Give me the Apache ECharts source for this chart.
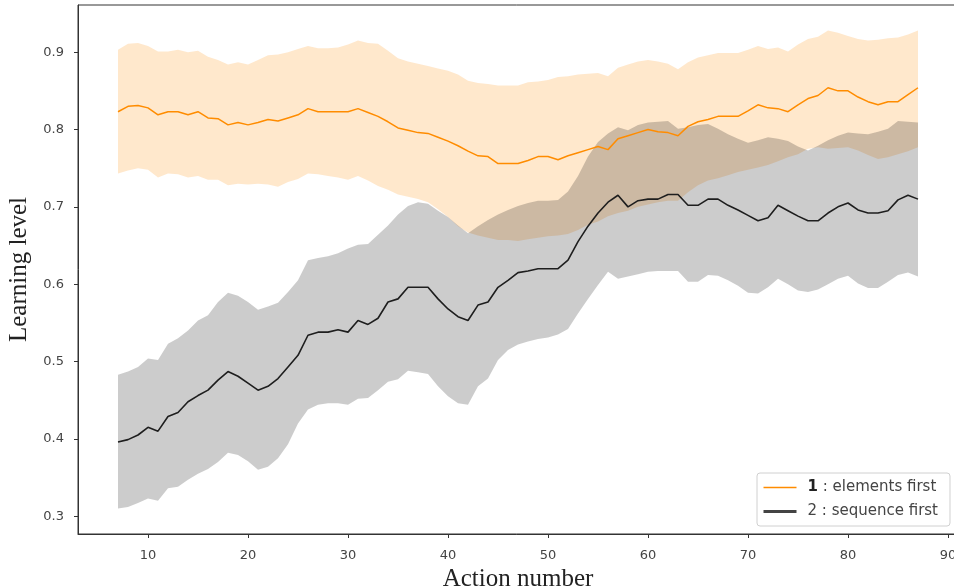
<!DOCTYPE html>
<html>
<head>
<meta charset="utf-8">
<script src="https://cdn.jsdelivr.net/npm/echarts@6/dist/echarts.min.js"></script>
<style>
html,body{margin:0;padding:0;background:#fff;}
#chart{width:954px;height:588px;}
</style>
</head>
<body>
<div id="chart"></div>
<script>
const actions = [7,8,9,10,11,12,13,14,15,16,17,18,19,20,21,22,23,24,25,26,27,28,29,30,31,32,33,34,35,36,37,38,39,40,41,42,43,44,45,46,47,48,49,50,51,52,53,54,55,56,57,58,59,60,61,62,63,64,65,66,67,68,69,70,71,72,73,74,75,76,77,78,79,80,81,82,83,84,85,86,87];

const elementsMean = [
0.823,0.830,0.831,0.828,0.819,0.823,0.823,0.819,0.823,0.815,
0.814,0.806,0.809,0.806,0.809,0.813,0.811,0.815,0.819,0.827,
0.823,0.823,0.823,0.823,0.827,0.822,0.817,0.810,0.802,0.799,
0.796,0.795,0.790,0.785,0.779,0.772,0.766,0.765,0.756,0.756,
0.756,0.760,0.765,0.765,0.761,0.766,0.770,0.774,0.778,0.774,
0.788,0.792,0.796,0.800,0.797,0.796,0.792,0.804,0.810,0.813,
0.817,0.817,0.817,0.824,0.832,0.828,0.827,0.823,0.832,0.840,
0.844,0.854,0.850,0.850,0.842,0.836,0.832,0.836,0.836,0.845,
0.854];
const elementsUpper = [
0.903,0.911,0.912,0.908,0.901,0.901,0.903,0.900,0.902,0.894,
0.890,0.884,0.887,0.884,0.890,0.896,0.897,0.900,0.904,0.908,
0.905,0.905,0.906,0.910,0.915,0.912,0.911,0.902,0.892,0.888,
0.885,0.882,0.879,0.876,0.871,0.863,0.860,0.859,0.857,0.857,
0.857,0.861,0.862,0.864,0.868,0.869,0.871,0.872,0.873,0.869,
0.880,0.884,0.888,0.890,0.888,0.885,0.878,0.887,0.893,0.896,
0.899,0.899,0.899,0.903,0.908,0.904,0.906,0.901,0.910,0.917,
0.920,0.928,0.925,0.921,0.917,0.915,0.916,0.918,0.919,0.923,
0.928];
const elementsLower = [
0.743,0.747,0.750,0.748,0.738,0.743,0.742,0.738,0.740,0.735,
0.735,0.728,0.730,0.729,0.730,0.729,0.726,0.732,0.736,0.743,
0.742,0.740,0.738,0.735,0.740,0.734,0.727,0.722,0.716,0.713,
0.710,0.706,0.697,0.687,0.675,0.667,0.663,0.660,0.657,0.657,
0.656,0.658,0.660,0.662,0.663,0.665,0.670,0.677,0.681,0.688,
0.692,0.695,0.700,0.703,0.706,0.708,0.708,0.719,0.728,0.734,
0.737,0.741,0.745,0.748,0.751,0.754,0.759,0.764,0.768,0.775,
0.777,0.775,0.776,0.777,0.773,0.767,0.762,0.764,0.768,0.772,
0.777];

const sequenceMean = [
0.396,0.399,0.405,0.415,0.410,0.429,0.434,0.448,0.456,0.463,
0.476,0.487,0.481,0.472,0.463,0.468,0.478,0.493,0.508,0.534,
0.538,0.538,0.541,0.538,0.553,0.548,0.556,0.577,0.581,0.596,
0.596,0.596,0.581,0.568,0.558,0.553,0.573,0.577,0.596,0.605,
0.615,0.617,0.620,0.620,0.620,0.631,0.655,0.675,0.692,0.706,
0.715,0.700,0.708,0.710,0.710,0.716,0.716,0.702,0.702,0.710,
0.710,0.702,0.696,0.689,0.682,0.686,0.702,0.695,0.688,0.682,
0.682,0.692,0.700,0.705,0.696,0.692,0.692,0.695,0.709,0.715,
0.710];
const sequenceUpper = [
0.483,0.487,0.493,0.504,0.502,0.523,0.530,0.540,0.553,0.560,
0.577,0.589,0.585,0.577,0.567,0.571,0.576,0.590,0.605,0.631,
0.634,0.636,0.640,0.646,0.651,0.652,0.664,0.676,0.690,0.701,
0.706,0.704,0.695,0.687,0.676,0.666,0.675,0.683,0.690,0.696,
0.701,0.705,0.708,0.708,0.709,0.720,0.740,0.765,0.784,0.795,
0.803,0.799,0.806,0.809,0.810,0.811,0.801,0.803,0.806,0.807,
0.801,0.794,0.788,0.783,0.786,0.790,0.788,0.785,0.778,0.773,
0.779,0.786,0.792,0.796,0.795,0.794,0.797,0.801,0.811,0.810,
0.809];
const sequenceLower = [
0.310,0.312,0.317,0.323,0.320,0.336,0.338,0.347,0.355,0.361,
0.370,0.382,0.379,0.371,0.360,0.364,0.375,0.393,0.420,0.438,
0.444,0.446,0.446,0.444,0.452,0.453,0.463,0.474,0.477,0.488,
0.486,0.484,0.468,0.455,0.446,0.444,0.468,0.478,0.502,0.515,
0.522,0.526,0.529,0.531,0.535,0.542,0.562,0.581,0.599,0.616,
0.607,0.610,0.613,0.616,0.617,0.617,0.617,0.603,0.603,0.612,
0.611,0.605,0.598,0.589,0.588,0.596,0.607,0.600,0.592,0.590,
0.593,0.600,0.607,0.611,0.601,0.595,0.595,0.603,0.612,0.615,
0.610];

const xTicks = [10,20,30,40,50,60,70,80,90];
const yTicks = [0.3,0.4,0.5,0.6,0.7,0.8,0.9];
const seriesNames = ['elements first','sequence first'];
const legendLabels = ['{b|1} : elements first','2 : sequence first'];

const pairs = (ys) => actions.map((x, i) => [x, ys[i]]);

// band polygon built through the chart's own coordinate system
function bandSeries(name, upper, lower, color, z){
  return {
    name:name, type:'custom', silent:true, z:z, clip:true,
    data:[[actions[0], upper[0]]],
    renderItem:function(params, api){
      const pts = [];
      for (let i = 0; i < actions.length; i++) pts.push(api.coord([actions[i], upper[i]]));
      for (let i = actions.length - 1; i >= 0; i--) pts.push(api.coord([actions[i], lower[i]]));
      return {type:'polygon', shape:{points:pts}, style:{fill:color, stroke:null}};
    }
  };
}

const chart = echarts.init(document.getElementById('chart'), null, {renderer:'canvas'});

chart.setOption({
  animation:false,
  backgroundColor:'#fff',
  grid:{left:78, top:5, width:880, height:529, outerBoundsMode:'none', containLabel:false,
    show:true, borderColor:'#333', borderWidth:1, backgroundColor:'transparent'},
  xAxis:{
    type:'value', min:3, max:91,
    axisLine:{show:true, lineStyle:{color:'#333', width:1}},
    axisTick:{show:true, length:4, inside:false, customValues:xTicks, lineStyle:{color:'#333'}},
    axisLabel:{customValues:xTicks, color:'#444', fontFamily:'DejaVu Sans', fontSize:13, margin:15},
    splitLine:{show:false},
    name:'Action number', nameLocation:'middle', nameGap:31,
    nameTextStyle:{fontFamily:'Liberation Serif', fontSize:25, color:'#222'}
  },
  yAxis:{
    type:'value', min:0.277, max:0.961,
    axisLine:{show:true, lineStyle:{color:'#333', width:1}},
    axisTick:{show:true, length:4, inside:false, customValues:yTicks, lineStyle:{color:'#333'}},
    axisLabel:{customValues:yTicks, color:'#444', fontFamily:'DejaVu Sans', fontSize:13, margin:14,
      formatter:(v)=>v.toFixed(1)},
    splitLine:{show:false},
    name:'Learning level', nameLocation:'middle', nameGap:42,
    nameTextStyle:{fontFamily:'Liberation Serif', fontSize:25, color:'#222'}
  },
  legend:{
    left:757, top:473, orient:'vertical', selectedMode:false,
    backgroundColor:'#fff', borderColor:'#d0d0d0', borderWidth:1, borderRadius:3,
    padding:[7,12,7,5], itemGap:9, itemWidth:33, itemHeight:14,
    formatter:(name)=>legendLabels[seriesNames.indexOf(name)],
    textStyle:{fontFamily:'DejaVu Sans', fontSize:15, color:'#444', padding:[0,0,0,6],
      rich:{b:{fontFamily:'DejaVu Sans', fontSize:15, fontWeight:'bold', color:'#222'}}},
    data:[
      {name:seriesNames[0], itemStyle:{opacity:0}, lineStyle:{color:'#ff8c00', width:1.5}},
      {name:seriesNames[1], itemStyle:{opacity:0}, lineStyle:{color:'#444', width:3}}
    ]
  },
  series:[
    bandSeries('eBand', elementsUpper, elementsLower, 'rgba(255,140,0,0.2)', 1),
    bandSeries('sBand', sequenceUpper, sequenceLower, 'rgba(0,0,0,0.2)', 2),
    {name:seriesNames[0], type:'line', data:pairs(elementsMean), symbol:'none', lineStyle:{color:'#ff8c00', width:1.5}, itemStyle:{color:'#ff8c00'}, z:3},
    {name:seriesNames[1], type:'line', data:pairs(sequenceMean), symbol:'none', lineStyle:{color:'#1e1e1e', width:1.6}, itemStyle:{color:'#444'}, z:4}
  ]
});
</script>
</body>
</html>
